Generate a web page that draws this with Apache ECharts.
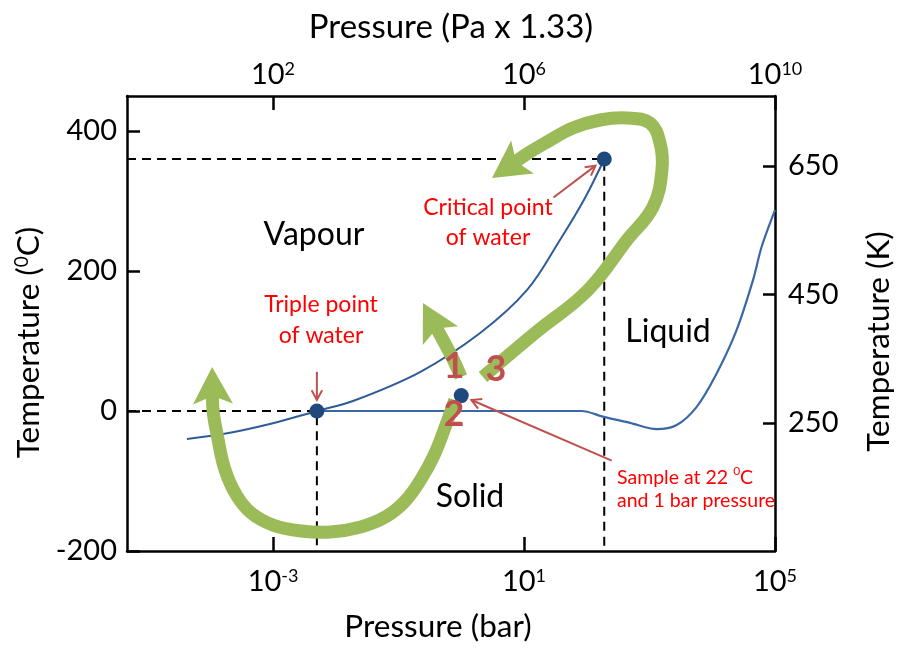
<!DOCTYPE html>
<html>
<head>
<meta charset="utf-8">
<title>Phase diagram of water</title>
<script src="https://cdn.jsdelivr.net/npm/echarts@6/dist/echarts.min.js"></script>
<style>
  html, body { margin: 0; padding: 0; background: #ffffff; }
  #chart { width: 898px; height: 648px; }
</style>
</head>
<body>
<div id="chart"></div>
<script>
// ---- Tick labels ----------------------------------------------------------
const barExponents = [-3, 1, 5];          // bottom axis, 10^n bar
const paExponents = [2, 6, 10];           // top axis, 10^n (Pa x 1.33)
const celsiusTicks = [-200, 0, 200, 400]; // left axis
const kelvinTicks = [250, 450, 650];      // right axis

// ---- Phase boundaries (pressure in bar, temperature in °C) ---------------
// Sublimation + vaporisation curve, ending at the critical point
const vapourPressure = [4.25e-5, 1.6e-4, 8.9e-4, 0.005, 0.0188, 0.22, 2.0, 11.2, 37.4, 93.7, 190];
const vapourTemp     = [-40, -33, -18.6, 0, 14.3, 55.7, 111.4, 172.9, 244.3, 304.3, 360];

// Melting curve, including the high-pressure ice region
const meltPressure = [0.005, 30, 83, 181, 489, 1300, 2710, 5650, 11800, 24500, 44600, 61400, 100000];
const meltTemp     = [0, 0, 0, -8, -17, -26, -20, 6, 54, 116, 187, 235, 287];

// ---- Marked points: triple point, critical point, sample ------------------
const keyPressure = [0.005, 190, 1];
const keyTemp     = [0, 360, 22];

// Callout arrow tails, one per marked point
const calloutTailPressure = [0.005, 29.5, 250];
const calloutTailTemp     = [56, 305, -71];

// ---- Phase-change paths (1: evaporate, 2: freeze & sublime, 3: supercritical)
const path1Pressure = [0.99, 0.71, 0.245];
const path1Temp     = [48.6, 77.1, 154.3];
const path2Pressure = [0.79, 0.57, 0.37, 0.23, 0.128, 0.062, 0.025, 0.0083, 0.0028, 1.0e-3, 4.5e-4, 2.6e-4, 1.7e-4, 1.3e-4, 1.11e-4, 1.07e-4];
const path2Temp     = [15.7, -20, -62.9, -97, -128.6, -151.4, -165.7, -172.9, -171.4, -162.9, -145.7, -120, -82.9, -35.7, 0, 62.9];
const path3Pressure = [2.22, 15, 105, 438, 1135, 1580, 1470, 1018, 438, 163, 60, 23.2, 12.4, 3.09];
const path3Temp     = [48.6, 111.4, 172.9, 244.3, 291.4, 344.3, 382.9, 411.4, 418.6, 415.7, 404.3, 384.3, 370, 332.9];

// ---- Layout & style --------------------------------------------------------
const FONT = 'Lato';
const GREEN = '#9bbb59';
const CALLOUT_RED = '#c0504d';
const TEXT_RED = '#ff0000';
const CURVE_BLUE = '#2f5c98';
const DOT_BLUE = '#1f497d';

const LOG_P_MIN = -5.327, LOG_P_MAX = 5;   // log10(bar)
const PA_SHIFT = 5;                          // decades between the two pressure scales
const T_MIN = -200, T_MAX = 450;
const K_MIN = 51, K_MAX = 759;

const toXY = (pArr, tArr) => pArr.map((p, i) => [Math.log10(p), tArr[i]]);
const cyclePaths = [toXY(path1Pressure, path1Temp), toXY(path2Pressure, path2Temp), toXY(path3Pressure, path3Temp)];
const keyPoints = toXY(keyPressure, keyTemp);

const powerRich = {
  b: { fontFamily: FONT, fontSize: 29, color: '#000' },
  s: { fontFamily: FONT, fontSize: 18, color: '#000', verticalAlign: 'top' }
};
const powerLabel = v => '{b|10}{s|' + v + '}';

const axisLine = { show: true, onZero: false, lineStyle: { color: '#000', width: 2.5 } };
function nameStyle(size, padding) {
  return {
    fontFamily: FONT, fontSize: size, color: '#000', padding: padding,
    rich: { s: { fontFamily: FONT, fontSize: Math.round(size * 0.6), color: '#000', verticalAlign: 'top' } }
  };
}

function tickCfg(values, len) {
  return { show: true, inside: true, length: len, customValues: values, lineStyle: { color: '#000', width: 2.5 } };
}

// Thick curved arrow with a notched head, drawn in pixel space from data coords
function renderCycleArrow(params, api) {
  const pts = cyclePaths[params.dataIndex].map(d => api.coord(d));
  const tip = pts[pts.length - 1];
  const prev = pts[pts.length - 2];
  let dx = tip[0] - prev[0], dy = tip[1] - prev[1];
  const len = Math.hypot(dx, dy);
  dx /= len; dy /= len;
  const nx = -dy, ny = dx;
  const L = 37, W = 20, N = 8;
  const base = [tip[0] - L * dx, tip[1] - L * dy];
  const notch = [tip[0] - (L - N) * dx, tip[1] - (L - N) * dy];
  const shaftEnd = [tip[0] - (L - N - 6) * dx, tip[1] - (L - N - 6) * dy];
  const shaft = pts.slice(0, -1).concat([shaftEnd]);
  return {
    type: 'group',
    children: [
      { type: 'polyline', shape: { points: shaft, smooth: 0.4 },
        style: { stroke: GREEN, lineWidth: 13, fill: 'none', lineJoin: 'round', lineCap: 'butt' } },
      { type: 'polygon',
        shape: { points: [tip, [base[0] + W * nx, base[1] + W * ny], notch, [base[0] - W * nx, base[1] - W * ny]] },
        style: { fill: GREEN } }
    ]
  };
}

// Thin callout arrow pointing at a marked point
function renderCallout(params, api) {
  const i = params.dataIndex;
  const head = api.coord(keyPoints[i]);
  const tail = api.coord([Math.log10(calloutTailPressure[i]), calloutTailTemp[i]]);
  let dx = head[0] - tail[0], dy = head[1] - tail[1];
  const len = Math.hypot(dx, dy);
  dx /= len; dy /= len;
  const tip = [head[0] - dx * 11, head[1] - dy * 11];
  const a = 11, ang = 0.5, c = Math.cos(ang), s = Math.sin(ang);
  const bx = -dx, by = -dy;
  const w1 = [tip[0] + a * (bx * c - by * s), tip[1] + a * (bx * s + by * c)];
  const w2 = [tip[0] + a * (bx * c + by * s), tip[1] + a * (-bx * s + by * c)];
  return {
    type: 'group',
    children: [
      { type: 'line', shape: { x1: tail[0], y1: tail[1], x2: tip[0], y2: tip[1] },
        style: { stroke: CALLOUT_RED, lineWidth: 2 } },
      { type: 'polyline', shape: { points: [w1, tip, w2] },
        style: { stroke: CALLOUT_RED, lineWidth: 2, fill: 'none' } }
    ]
  };
}

function label(text, x, y, opts) {
  const style = Object.assign({
    text: text, fontFamily: FONT, fontSize: 32, fill: '#000',
    align: 'center', textAlign: 'center', verticalAlign: 'middle', textVerticalAlign: 'middle'
  }, opts || {});
  if (style.align !== 'center') style.textAlign = style.align;
  return { type: 'text', x: x, y: y, z: 100, style: style };
}

const chart = echarts.init(document.getElementById('chart'), null, { renderer: 'canvas' });

const dashed = { color: '#000', width: 2, type: [9, 6] };

chart.setOption({
  animation: false,
  backgroundColor: '#ffffff',
  grid: { left: 127, right: 123, top: 96, bottom: 97, containLabel: false, outerBoundsMode: 'none' },
  xAxis: [
    {
      type: 'value', position: 'bottom', min: LOG_P_MIN, max: LOG_P_MAX,
      name: 'Pressure (bar)', nameLocation: 'middle', nameGap: 60, nameTextStyle: nameStyle(31.5, [0, 26, 0, 0]),
      axisLine: axisLine, axisTick: tickCfg(barExponents, 14),
      axisLabel: { customValues: barExponents, margin: 16, formatter: powerLabel, rich: powerRich },
      splitLine: { show: false }
    },
    {
      type: 'value', position: 'top', min: LOG_P_MIN + PA_SHIFT, max: LOG_P_MAX + PA_SHIFT,
      name: 'Pressure (Pa x 1.33)', nameLocation: 'middle', nameGap: 52, nameTextStyle: nameStyle(33, [0, 0, 0, 0]),
      axisLine: axisLine, axisTick: tickCfg(paExponents, 14),
      axisLabel: { customValues: paExponents, margin: 7, formatter: powerLabel, rich: powerRich },
      splitLine: { show: false }
    }
  ],
  yAxis: [
    {
      type: 'value', position: 'left', min: T_MIN, max: T_MAX,
      name: 'Temperature ({s|0}C)', nameLocation: 'middle', nameGap: 80, nameTextStyle: nameStyle(31.5, [0, 38, 0, 0]),
      axisLine: axisLine, axisTick: tickCfg(celsiusTicks, 13),
      axisLabel: { customValues: celsiusTicks, margin: 10, fontFamily: FONT, fontSize: 29, color: '#000' },
      splitLine: { show: false }
    },
    {
      type: 'value', position: 'right', min: K_MIN, max: K_MAX,
      name: 'Temperature (K)', nameLocation: 'middle', nameGap: 88, nameTextStyle: nameStyle(31.5, [0, 36, 0, 0]),
      axisLine: axisLine, axisTick: tickCfg(kelvinTicks, 12),
      axisLabel: { customValues: kelvinTicks, margin: 13, fontFamily: FONT, fontSize: 29, color: '#000' },
      splitLine: { show: false }
    }
  ],
  series: [
    {
      name: 'Triple point guides', type: 'line', xAxisIndex: 0, yAxisIndex: 0, z: 1, silent: true,
      symbol: 'none', lineStyle: dashed,
      data: [[LOG_P_MIN, keyTemp[0]], keyPoints[0], [keyPoints[0][0], T_MIN]]
    },
    {
      name: 'Critical point guides', type: 'line', xAxisIndex: 0, yAxisIndex: 0, z: 1, silent: true,
      symbol: 'none', lineStyle: dashed,
      data: [[LOG_P_MIN, keyTemp[1]], keyPoints[1], [keyPoints[1][0], T_MIN]]
    },
    {
      name: 'Vapour boundary', type: 'line', xAxisIndex: 0, yAxisIndex: 0, z: 2,
      symbol: 'none', smooth: 0.35, lineStyle: { color: CURVE_BLUE, width: 2 },
      data: toXY(vapourPressure, vapourTemp)
    },
    {
      name: 'Melting boundary', type: 'line', xAxisIndex: 0, yAxisIndex: 0, z: 2,
      symbol: 'none', smooth: 0.3, lineStyle: { color: '#3a68a4', width: 2.2 },
      data: toXY(meltPressure, meltTemp)
    },
    {
      name: 'Phase changes', type: 'custom', xAxisIndex: 0, yAxisIndex: 0, z: 3,
      renderItem: renderCycleArrow,
      data: cyclePaths.map(p => p[p.length - 1])
    },
    {
      name: 'Callouts', type: 'custom', xAxisIndex: 0, yAxisIndex: 0, z: 4,
      renderItem: renderCallout,
      data: keyPoints
    },
    {
      name: 'Marked points', type: 'scatter', xAxisIndex: 0, yAxisIndex: 0, z: 5,
      symbol: 'circle', symbolSize: 15, itemStyle: { color: DOT_BLUE, opacity: 1 },
      data: keyPoints
    }
  ],
  graphic: [
    label('Vapour', 314, 235),
    label('Liquid', 668, 332),
    label('Solid', 470, 497),
    label('1', 454, 366, { fontSize: 36, fontWeight: 'bold', fill: CALLOUT_RED }),
    label('3', 496, 369, { fontSize: 36, fontWeight: 'bold', fill: CALLOUT_RED }),
    label('2', 454, 414, { fontSize: 36, fontWeight: 'bold', fill: CALLOUT_RED }),
    label('Triple point\nof water', 321, 320, { fontSize: 23, lineHeight: 31, fill: TEXT_RED }),
    label('Critical point\nof water', 488, 223, { fontSize: 23, lineHeight: 30, fill: TEXT_RED }),
    label('Sample at ' + keyTemp[2] + ' {s|0}C\nand ' + keyPressure[2] + ' bar pressure', 617, 489, {
      fontSize: 19.5, lineHeight: 23.5, fill: TEXT_RED, align: 'left',
      rich: { s: { fontFamily: FONT, fontSize: 12, fill: TEXT_RED, color: TEXT_RED, verticalAlign: 'top' } }
    })
  ]
});
</script>
</body>
</html>
